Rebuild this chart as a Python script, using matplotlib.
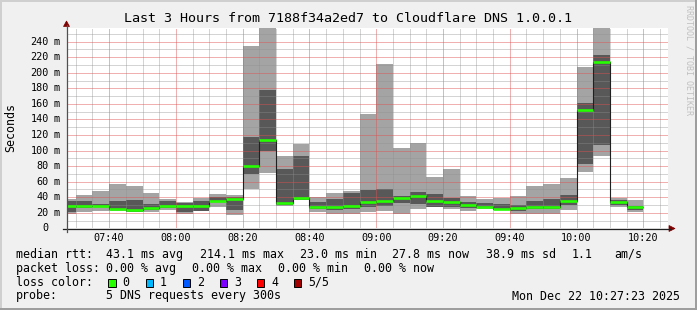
import matplotlib
matplotlib.use('Agg')
import matplotlib.pyplot as plt
import matplotlib.transforms as mtransforms
from matplotlib.patches import Rectangle, Polygon
from matplotlib.lines import Line2D
from matplotlib.ticker import MultipleLocator
import numpy as np

W, H = 697, 310
MONO = 'DejaVu Sans Mono'

# ---------------- data ----------------
bar_end = ["07:30", "07:35", "07:40", "07:45", "07:50", "07:55", "08:00",
           "08:05", "08:10", "08:15", "08:20", "08:25", "08:30", "08:35",
           "08:40", "08:45", "08:50", "08:55", "09:00", "09:05", "09:10",
           "09:15", "09:20", "09:25", "09:30", "09:35", "09:40", "09:45",
           "09:50", "09:55", "10:00", "10:05", "10:10", "10:15", "10:20"]
# five sorted pings per step (ms)
ping1 = [18.8, 21.0, 22.3, 22.3, 20.5, 21.0, 23.0, 18.8, 22.0, 27.4, 17.5,
         50.5, 71.5, 29.0, 36.0, 21.2, 19.0, 19.0, 21.5, 22.5, 18.9, 25.0,
         27.3, 24.8, 22.7, 24.4, 23.5, 19.0, 18.8, 18.8, 23.5, 72.4, 93.0,
         27.6, 21.2]
ping2 = [20.5, 25.7, 27.0, 23.5, 21.5, 23.5, 26.1, 21.0, 22.3, 33.4, 23.5,
         69.8, 99.5, 30.3, 36.5, 25.3, 23.5, 24.4, 27.9, 29.1, 33.0, 31.5,
         27.9, 27.9, 25.7, 25.5, 23.8, 22.7, 25.0, 25.3, 30.0, 82.7, 107.2,
         30.0, 23.6]
median = [29.0, 29.0, 28.5, 25.3, 23.0, 26.1, 29.0, 28.3, 28.3, 35.5, 38.1,
          80.3, 113.8, 32.5, 38.6, 27.8, 27.6, 28.6, 33.2, 35.5, 39.4, 42.0,
          35.5, 34.0, 29.5, 27.4, 25.3, 26.4, 27.4, 27.4, 35.5, 152.6, 214.1,
          34.0, 27.8]
ping4 = [35.0, 35.0, 31.5, 35.0, 36.4, 31.3, 35.0, 32.5, 35.0, 39.8, 40.5,
         117.6, 178.3, 76.7, 93.0, 34.0, 38.0, 45.5, 49.3, 50.5, 42.0, 46.7,
         44.1, 39.0, 34.3, 32.8, 31.3, 30.5, 35.5, 37.7, 42.8, 161.0, 222.5,
         36.0, 29.0]
ping5 = [37.7, 42.8, 48.0, 57.0, 54.4, 45.6, 37.7, 33.8, 39.0, 44.1, 42.8,
         234.5, 270.0, 93.0, 108.5, 40.2, 45.8, 48.2, 147.0, 211.4, 103.3,
         109.8, 66.0, 76.3, 41.1, 37.7, 39.0, 41.3, 54.4, 57.0, 64.7, 207.8,
         270.0, 39.0, 36.4]

x_tick_labels = ["07:40", "08:00", "08:20", "08:40", "09:00", "09:20",
                 "09:40", "10:00", "10:20"]
y_tick_values = [0, 20, 40, 60, 80, 100, 120, 140, 160, 180, 200, 220, 240]
y_tick_labels = ["0", "20 m", "40 m", "60 m", "80 m", "100 m", "120 m",
                 "140 m", "160 m", "180 m", "200 m", "220 m", "240 m"]
window = ("07:27:23", "10:27:23")
step_min = 5

loss_labels = ["0", "1", "2", "3", "4", "5/5"]
loss_colors = ["#26ff00", "#00b8ff", "#0059ff", "#7e00ff", "#ff0000", "#a10000"]

title = "Last 3 Hours from 7188f34a2ed7 to Cloudflare DNS 1.0.0.1"
row1 = [("median rtt:", 16), ("43.1 ms avg", 107), ("214.1 ms max", 200),
        ("23.0 ms min", 300), ("27.8 ms now", 393), ("38.9 ms sd", 486),
        ("1.1", 572), ("am/s", 615)]
row2 = [("packet loss:", 16), ("0.00 % avg", 107), ("0.00 % max", 193),
        ("0.00 % min", 279), ("0.00 % now", 364)]
probe_text = "5 DNS requests every 300s"
date_text = "Mon Dec 22 10:27:23 2025"


def tmin(s):
    parts = [int(p) for p in s.split(":")]
    while len(parts) < 3:
        parts.append(0)
    return (parts[0] - 7) * 60 + parts[1] + parts[2] / 60.0


ends = np.array([tmin(s) for s in bar_end])
lefts = ends - step_min
p1 = np.array(ping1); p2 = np.array(ping2); p3 = np.array(median)
p4 = np.array(ping4); p5 = np.array(ping5)

# ---------------- figure ----------------
fig = plt.figure(figsize=(W / 100, H / 100), dpi=100)
fig.patch.set_facecolor('#f0f0f0')


def fx(x):
    return x / W


def fy(y):
    return 1 - y / H


ax_left, ax_right, ax_top, ax_bot = 67, 668, 28, 228.3
ax = fig.add_axes([fx(ax_left), fy(ax_bot), (ax_right - ax_left) / W,
                   (ax_bot - ax_top) / H])
ax.set_facecolor('white')
ax.set_xlim(tmin(window[0]), tmin(window[1]))
ax.set_ylim(0, 257.6)

# smoke
ax.bar(lefts, p5 - p1, bottom=p1, width=step_min, align='edge',
       color='#a4a4a4', linewidth=0, zorder=1)
ax.bar(lefts, p4 - p2, bottom=p2, width=step_min, align='edge',
       color='#585858', linewidth=0, zorder=1.1)
# median step line + loss coloured segments
edges = np.concatenate([[lefts[0]], ends])
ax.stairs(p3, edges, baseline=None, color='#202020', linewidth=0.8, zorder=3)
ax.hlines(p3, lefts, ends, colors=loss_colors[0], linewidth=1.9, zorder=3.2)

# grid
major_x = [tmin(s) for s in x_tick_labels]
ax.set_xticks(major_x)
ax.set_xticks(np.arange(tmin("07:30"), tmin(window[1]), 5), minor=True)
ax.set_yticks(y_tick_values)
ax.yaxis.set_minor_locator(MultipleLocator(10))
ax.set_axisbelow(False)
ax.grid(which='minor', color='#8f8f8f', alpha=0.38, linewidth=0.72,
        linestyle=(0, (1, 1)), antialiased=False)
ax.grid(which='major', color='#de5050', alpha=0.45, linewidth=0.72,
        linestyle=(0, (1, 1)), antialiased=False)
ax.tick_params(which='both', length=0, labelbottom=False, labelleft=False)
for s in ax.spines.values():
    s.set_visible(False)

# axis lines with arrows
ax_col = '#202020'
arrow_col = '#800000'
fig.add_artist(Line2D([fx(63), fx(671)], [fy(228.5), fy(228.5)],
                      color=ax_col, linewidth=0.9))
fig.add_artist(Line2D([fx(66.5), fx(66.5)], [fy(232), fy(25)],
                      color='#505050', linewidth=0.9))
fig.add_artist(Polygon([[fx(669), fy(225.5)], [fx(675), fy(228.5)],
                        [fx(669), fy(231.5)]], closed=True,
                       facecolor=arrow_col, edgecolor=arrow_col, lw=0.5))
fig.add_artist(Polygon([[fx(63.5), fy(26.5)], [fx(66.5), fy(21)],
                        [fx(69.5), fy(26.5)]], closed=True,
                       facecolor=arrow_col, edgecolor=arrow_col, lw=0.5))

# tick labels
ytr = mtransforms.blended_transform_factory(fig.transFigure, ax.transData)
for v, lab in zip(y_tick_values, y_tick_labels):
    parts = lab.split(" ")
    fig.text(fx(48.8), v, parts[0], transform=ytr, ha='right', va='center',
             fontsize=7.3, family=MONO)
    if len(parts) > 1:
        fig.text(fx(53.8), v, parts[1], transform=ytr, ha='left',
                 va='center', fontsize=7.3, family=MONO)
xtr = mtransforms.blended_transform_factory(ax.transData, fig.transFigure)
for t, lab in zip(major_x, x_tick_labels):
    fig.text(t, fy(238), lab, transform=xtr, ha='center', va='center',
             fontsize=7.3, family=MONO)

# titles
fig.text(fx(348.5), fy(18), title, ha='center', va='center', fontsize=9.6,
         family=MONO)
fig.text(fx(11), fy(127.5), "Seconds", rotation=90, ha='center',
         va='center', fontsize=8.4, family=MONO)
fig.text(fx(688.5), fy(60), "RRDTOOL / TOBI OETIKER", rotation=270,
         ha='center', va='center', fontsize=6.0, family=MONO, color='#c0c0c0')

# legend
LF = 8.4
for txt, x in row1:
    fig.text(fx(x - 0.5), fy(254.3), txt, ha='left', va='center',
             fontsize=LF, family=MONO)
for txt, x in row2:
    fig.text(fx(x - 0.5), fy(268.3), txt, ha='left', va='center',
             fontsize=LF, family=MONO)
fig.text(fx(15.5), fy(282.3), "loss color:", ha='left', va='center',
         fontsize=LF, family=MONO)
box_x = [108, 145.5, 182.5, 219.5, 256.5, 293.5]
for bx, lab, col in zip(box_x, loss_labels, loss_colors):
    fig.add_artist(Rectangle((fx(bx), fy(286.5)), 7.5 / W, 8 / H,
                             facecolor=col, edgecolor='black', lw=0.7))
    fig.text(fx(bx + 14.5), fy(282.3), lab, ha='left', va='center',
             fontsize=LF, family=MONO)
fig.text(fx(15.5), fy(296), "probe:", ha='left', va='center', fontsize=LF,
         family=MONO)
fig.text(fx(106.5), fy(296), probe_text, ha='left', va='center',
         fontsize=LF, family=MONO)
fig.text(fx(680.5), fy(296), date_text, ha='right', va='center',
         fontsize=LF, family=MONO)

# frame (3D shade)
fig.add_artist(Rectangle((0, 0), 2 / W, 1, facecolor='#cfcfcf', lw=0))
fig.add_artist(Rectangle((0, 1 - 2 / H), 1, 2 / H, facecolor='#cfcfcf', lw=0))
fig.add_artist(Rectangle((1 - 2 / W, 0), 2 / W, 1, facecolor='#9e9e9e', lw=0))
fig.add_artist(Rectangle((0, 0), 1, 2 / H, facecolor='#9e9e9e', lw=0))

fig.savefig('out.png', dpi=100, facecolor=fig.get_facecolor())
